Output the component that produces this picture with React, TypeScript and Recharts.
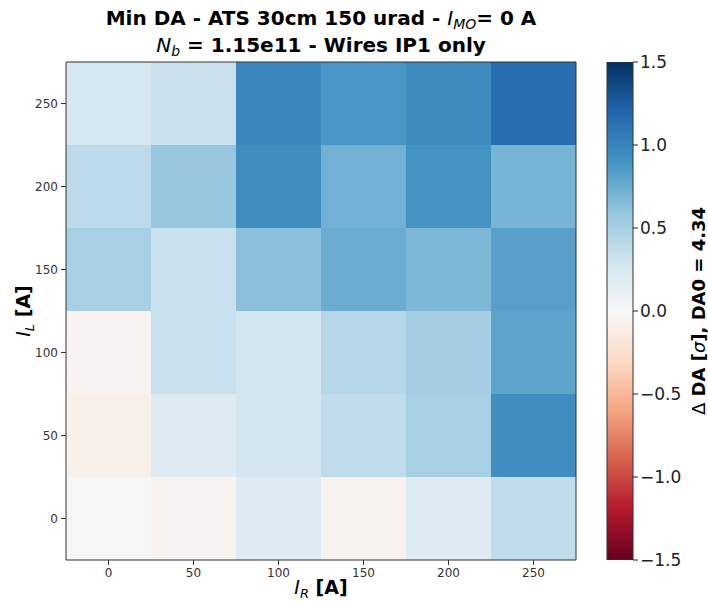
import React from "react";
import {
  ScatterChart,
  BarChart,
  Bar,
  XAxis,
  YAxis,
  ReferenceArea,
} from "recharts";

// wire currents [A]
const currentsR = [0, 50, 100, 150, 200, 250];
const currentsL = [0, 50, 100, 150, 200, 250];

// delta DA [sigma], one row per I_L value
const rowL0 = [0.01, -0.04, 0.2, -0.05, 0.2, 0.38];
const rowL50 = [-0.08, 0.2, 0.28, 0.38, 0.5, 0.93];
const rowL100 = [-0.04, 0.34, 0.28, 0.43, 0.52, 0.8];
const rowL150 = [0.5, 0.34, 0.63, 0.75, 0.68, 0.82];
const rowL200 = [0.4, 0.58, 0.93, 0.72, 0.9, 0.7];
const rowL250 = [0.27, 0.33, 0.98, 0.88, 0.95, 1.15];
const rows = [rowL0, rowL50, rowL100, rowL150, rowL200, rowL250];

const axisTicks = [0, 50, 100, 150, 200, 250];
const cbarTicks = [-1.5, -1.0, -0.5, 0.0, 0.5, 1.0, 1.5];
const vmin = -1.5;
const vmax = 1.5;
const cbarData = [{ name: "cbar", range: [vmin, vmax] }];

// matplotlib RdBu stops
const rdbu = [
  "#67001f", "#b2182b", "#d6604d", "#f4a582", "#fddbc7", "#f7f7f7",
  "#d1e5f0", "#92c5de", "#4393c3", "#2166ac", "#053061",
];

const hex = (h: string) => [1, 3, 5].map((i) => parseInt(h.slice(i, i + 2), 16));

function colorFor(v: number) {
  let t = (v - vmin) / (vmax - vmin);
  t = Math.max(0, Math.min(1, t));
  const pos = t * (rdbu.length - 1);
  const i = Math.min(rdbu.length - 2, Math.floor(pos));
  const f = pos - i;
  const a = hex(rdbu[i]);
  const b = hex(rdbu[i + 1]);
  const c = a.map((x, k) => Math.round(x + (b[k] - x) * f));
  return `rgb(${c[0]},${c[1]},${c[2]})`;
}

const cells = rows.flatMap((row, j) =>
  row.map((v, i) => ({ r: currentsR[i], l: currentsL[j], v }))
);

const font = "'DejaVu Sans', sans-serif";
const tickStyle = { fontSize: 12, fill: "#333", fontFamily: font };
const fmt = (v: number) => (v < 0 ? "\u2212" + Math.abs(v).toFixed(1) : v.toFixed(1));
const subStyle = { fontStyle: "italic", fontWeight: "normal", lineHeight: 0, verticalAlign: "-0.3em" } as const;

export default function App() {
  return (
    <div style={{ position: "absolute", left: 0, top: 0, width: 708, height: 603, background: "#fff", fontFamily: font }}>
      <div style={{ position: "absolute", left: 0, top: 0 }}>
        <ScatterChart width={708} height={603} margin={{ top: 62, right: 132, bottom: 0, left: 6 }}>
          <XAxis
            type="number"
            dataKey="r"
            domain={[-25, 275]}
            ticks={axisTicks}
            height={43}
            tick={tickStyle}
            tickSize={5}
            tickMargin={3}
            axisLine={false}
            tickLine={{ stroke: "#333" }}
            allowDataOverflow
          />
          <YAxis
            type="number"
            dataKey="l"
            domain={[-25, 275]}
            ticks={axisTicks}
            width={60}
            tick={tickStyle}
            tickSize={5}
            tickMargin={3}
            axisLine={false}
            tickLine={{ stroke: "#333" }}
            allowDataOverflow
          />
          {cells.map((c) => (
            <ReferenceArea
              key={`${c.r}-${c.l}`}
              x1={c.r - 25}
              x2={c.r + 25}
              y1={c.l - 25}
              y2={c.l + 25}
              fill={colorFor(c.v)}
              fillOpacity={1}
              stroke="none"
              ifOverflow="visible"
            />
          ))}
          <ReferenceArea x1={-25} x2={275} y1={-25} y2={275} fill="none" stroke="#333" strokeWidth={1} ifOverflow="visible" />
        </ScatterChart>
      </div>

      <div style={{ position: "absolute", left: 0, top: 0 }}>
        <BarChart width={708} height={603} data={cbarData} barCategoryGap={0} margin={{ top: 62, right: 15, bottom: 43, left: 607 }}>
          <defs>
            <linearGradient id="rdbuGrad" x1="0" y1="1" x2="0" y2="0">
              {rdbu.map((c, i) => (
                <stop key={c} offset={`${(i / (rdbu.length - 1)) * 100}%`} stopColor={c} />
              ))}
            </linearGradient>
          </defs>
          <XAxis dataKey="name" hide />
          <YAxis
            type="number"
            orientation="right"
            domain={[vmin, vmax]}
            ticks={cbarTicks}
            tickFormatter={fmt}
            width={60}
            tick={{ fontSize: 17, fill: "#222", fontFamily: font }}
            tickSize={5}
            tickMargin={2}
            axisLine={false}
            tickLine={{ stroke: "#222" }}
            allowDataOverflow
          />
          <Bar dataKey="range" fill="url(#rdbuGrad)" stroke="#333" strokeWidth={1} isAnimationActive={false} />
        </BarChart>
      </div>

      <div style={{ position: "absolute", left: 0, top: 5, width: 642, textAlign: "center", fontWeight: "bold", fontSize: 20, lineHeight: "27px", color: "#000" }}>
        <div>
          Min DA - ATS 30cm 150 urad - <span style={{ fontStyle: "italic", fontWeight: "normal" }}>I</span>
          <span style={{ ...subStyle, fontSize: 14 }}>MO</span>= 0 A
        </div>
        <div>
          <span style={{ fontStyle: "italic", fontWeight: "normal" }}>N</span>
          <span style={{ ...subStyle, fontSize: 14 }}>b</span> = 1.15e11 - Wires IP1 only
        </div>
      </div>

      <div style={{ position: "absolute", left: 0, top: 576, width: 642, textAlign: "center", fontWeight: "bold", fontSize: 19, lineHeight: "22px", color: "#000" }}>
        <span style={{ fontStyle: "italic", fontWeight: "normal" }}>I</span>
        <span style={{ ...subStyle, fontSize: 13 }}>R</span> [A]
      </div>

      <div style={{ position: "absolute", left: 23, top: 311, width: 0, height: 0 }}>
        <div style={{ position: "absolute", transform: "translate(-50%, -50%) rotate(-90deg)", whiteSpace: "nowrap", fontWeight: "bold", fontSize: 19, lineHeight: "22px", color: "#000" }}>
          <span style={{ fontStyle: "italic", fontWeight: "normal" }}>I</span>
          <span style={{ ...subStyle, fontSize: 13 }}>L</span> [A]
        </div>
      </div>

      <div style={{ position: "absolute", left: 699, top: 311, width: 0, height: 0 }}>
        <div style={{ position: "absolute", transform: "translate(-50%, -50%) rotate(-90deg)", whiteSpace: "nowrap", fontWeight: "bold", fontSize: 18, lineHeight: "20px", color: "#000" }}>
          <span style={{ fontWeight: "normal" }}>Δ</span> DA [<span style={{ fontStyle: "italic", fontWeight: "normal" }}>σ</span>], DA0 = 4.34
        </div>
      </div>
    </div>
  );
}
